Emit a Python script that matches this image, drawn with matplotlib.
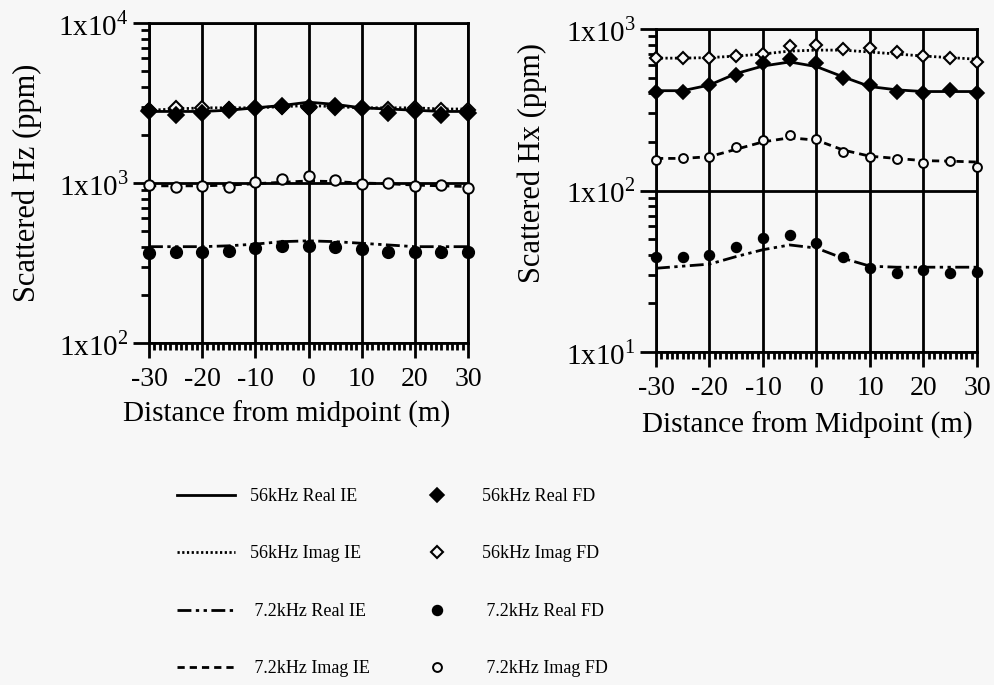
import matplotlib
matplotlib.use('Agg')
import matplotlib.pyplot as plt
from matplotlib.lines import Line2D
from matplotlib.ticker import FixedLocator, FixedFormatter, LogLocator, MultipleLocator, NullFormatter

plt.rcParams['font.family'] = ['Liberation Serif', 'DejaVu Serif']
plt.rcParams['mathtext.fontset'] = 'custom'
plt.rcParams['mathtext.rm'] = 'Liberation Serif'

# ---------------- data ----------------
x = [-30, -25, -20, -15, -10, -5, 0, 5, 10, 15, 20, 25, 30]

# Left panel: Scattered Hz (ppm)
hz56_real_ie = [2800, 2800, 2800, 2850, 2950, 3050, 3200, 3100, 2950, 2900, 2850, 2800, 2800]
hz56_imag_ie = [2850, 2900, 2950, 2950, 2950, 3000, 3050, 3000, 2950, 2950, 2950, 2900, 2900]
hz72_real_ie = [400, 400, 400, 405, 415, 430, 435, 430, 420, 410, 400, 400, 400]
hz72_imag_ie = [960, 960, 960, 970, 990, 1010, 1030, 1020, 1000, 990, 970, 960, 950]
hz56_real_fd = [2800, 2650, 2750, 2850, 2950, 3050, 3000, 3050, 2950, 2750, 2800, 2650, 2750]
hz56_imag_fd = [2850, 2950, 2950, 2900, 2950, 3000, 2950, 2950, 2950, 2900, 2950, 2850, 2850]
hz72_real_fd = [365, 370, 370, 375, 390, 405, 405, 400, 385, 370, 370, 370, 370]
hz72_imag_fd = [970, 950, 955, 950, 1020, 1060, 1110, 1050, 990, 1005, 955, 970, 930]

# Right panel: Scattered Hx (ppm)
hx56_real_ie = [415, 415, 450, 530, 590, 625, 585, 505, 440, 420, 410, 410, 410]
hx56_imag_ie = [660, 660, 665, 680, 700, 730, 740, 740, 720, 700, 680, 665, 650]
hx72_real_ie = [33, 34, 35, 39, 43, 46, 44, 38, 34, 33.5, 33.5, 33.5, 33.5]
hx72_imag_ie = [158, 158, 162, 180, 200, 212, 205, 178, 163, 158, 153, 152, 150]
hx56_real_fd = [410, 405, 450, 520, 620, 650, 615, 495, 450, 410, 400, 420, 400]
hx56_imag_fd = [660, 660, 660, 680, 705, 785, 795, 750, 760, 725, 680, 660, 625]
hx72_real_fd = [38.5, 39, 40, 45, 50.5, 53, 47.5, 39, 33, 31, 32, 31, 31.5]
hx72_imag_fd = [155, 158, 162, 187, 206, 221, 207, 174, 162, 156, 149, 152, 140]

xticks = [-30, -20, -10, 0, 10, 20, 30]
xtick_labels = ['-30', '-20', '-10', '0', '10', '20', '30']
left_yticks = [1e2, 1e3, 1e4]
left_ytick_labels = ['1x10$^{2}$', '1x10$^{3}$', '1x10$^{4}$']
right_yticks = [1e1, 1e2, 1e3]
right_ytick_labels = ['1x10$^{1}$', '1x10$^{2}$', '1x10$^{3}$']

left_xlabel = 'Distance from midpoint (m)'
right_xlabel = 'Distance from Midpoint (m)'
left_ylabel = 'Scattered Hz (ppm)'
right_ylabel = 'Scattered Hx (ppm)'

line_labels = ['56kHz Real IE', '56kHz Imag IE', ' 7.2kHz Real IE', ' 7.2kHz Imag IE']
marker_labels = ['56kHz Real FD', '56kHz Imag FD', ' 7.2kHz Real FD', ' 7.2kHz Imag FD']

# ---------------- styles ----------------
BG = '#f7f7f7'
LW = 2.0
ls_real56 = '-'
ls_imag56 = (0, (0.8, 0.9))
ls_real72 = (0, (5, 1.6, 1.2, 1.6, 1.2, 1.6))
ls_imag72 = (0, (2.6, 1.8))


def marker_styles(scale):
    return [
        dict(marker='D', ms=8 * scale, mfc='black', mec='black', mew=1.2, ls='none'),
        dict(marker='D', ms=7.5 * scale, mfc=BG, mec='black', mew=1.5, ls='none'),
        dict(marker='o', ms=8.5 * scale, mfc='black', mec='black', mew=1.0, ls='none'),
        dict(marker='o', ms=7.5 * scale, mfc=BG, mec='black', mew=1.4, ls='none'),
    ]


fig = plt.figure(figsize=(9.95, 6.85), dpi=100, facecolor=BG)

ax1 = fig.add_axes([149/995, 1-343/685, 319/995, 320/685])
ax2 = fig.add_axes([656/995, 1-352/685, 321/995, 323/685])


def style_axes(ax, ylim, yticks, ylabels, xlabel, ylabel):
    ax.set_facecolor(BG)
    ax.set_yscale('log')
    ax.set_xlim(-30, 30)
    ax.set_ylim(*ylim)
    ax.xaxis.set_major_locator(FixedLocator(xticks))
    ax.xaxis.set_major_formatter(FixedFormatter(xtick_labels))
    ax.xaxis.set_minor_locator(MultipleLocator(1))
    ax.yaxis.set_major_locator(FixedLocator(yticks))
    ax.yaxis.set_major_formatter(FixedFormatter(ylabels))
    ax.yaxis.set_minor_locator(LogLocator(base=10, subs=range(2, 10)))
    ax.yaxis.set_minor_formatter(NullFormatter())
    ax.tick_params(axis='both', which='both', direction='out', width=2, color='black')
    ax.tick_params(axis='x', which='major', length=11, pad=6, labelsize=20)
    ax.tick_params(axis='x', which='minor', length=5)
    ax.tick_params(axis='y', which='major', length=11.5, pad=3, labelsize=21)
    ax.tick_params(axis='y', which='minor', length=6)
    for s in ['left', 'bottom', 'top', 'right']:
        ax.spines[s].set_linewidth(2)
    ax.grid(True, which='major', axis='both', color='black', lw=2)
    ax.set_axisbelow(True)
    ax.set_xlabel(xlabel, fontsize=21)
    ax.set_ylabel(ylabel, fontsize=22)


style_axes(ax1, (1e2, 1e4), left_yticks, left_ytick_labels, left_xlabel, left_ylabel)
style_axes(ax2, (1e1, 1e3), right_yticks, right_ytick_labels, right_xlabel, right_ylabel)

for ax, scale, r56, i56, r72, i72, fr56, fi56, fr72, fi72 in [
    (ax1, 1.0, hz56_real_ie, hz56_imag_ie, hz72_real_ie, hz72_imag_ie,
     hz56_real_fd, hz56_imag_fd, hz72_real_fd, hz72_imag_fd),
    (ax2, 0.85, hx56_real_ie, hx56_imag_ie, hx72_real_ie, hx72_imag_ie,
     hx56_real_fd, hx56_imag_fd, hx72_real_fd, hx72_imag_fd)]:
    mk_real56, mk_imag56, mk_real72, mk_imag72 = marker_styles(scale)
    ax.plot(x, i56, color='black', lw=LW, ls=ls_imag56, zorder=3)
    ax.plot(x, r56, color='black', lw=LW, ls=ls_real56, zorder=3)
    ax.plot(x, i72, color='black', lw=LW, ls=ls_imag72, zorder=3)
    ax.plot(x, r72, color='black', lw=LW, ls=ls_real72, zorder=3)
    ax.plot(x, fi56, zorder=4, clip_on=False, **mk_imag56)
    ax.plot(x, fr56, zorder=5, clip_on=False, **mk_real56)
    ax.plot(x, fi72, zorder=4, clip_on=False, **mk_imag72)
    ax.plot(x, fr72, zorder=5, clip_on=False, **mk_real72)

ax1.xaxis.set_label_coords(0.43, -0.18)
ax2.xaxis.set_label_coords(0.47, -0.185)
ax1.yaxis.set_label_coords(-0.335, 0.5)
ax2.yaxis.set_label_coords(-0.34, 0.585)

# ---------------- legend ----------------
line_handles = [Line2D([], [], color='black', lw=LW, ls=s)
                for s in [ls_real56, ls_imag56, ls_real72, ls_imag72]]
marker_handles = [Line2D([], [], **m) for m in marker_styles(0.85)]

leg_kw = dict(frameon=False, loc='upper left', fontsize=13, borderaxespad=0,
              borderpad=0, labelspacing=2.24)
fig.legend(line_handles, line_labels, bbox_to_anchor=(177/995, 1-488/685),
           handlelength=3.2, handletextpad=0.85, **leg_kw)
fig.legend(marker_handles, marker_labels, bbox_to_anchor=(428/995, 1-488/685),
           handlelength=1.0, handletextpad=2.0, **leg_kw)

fig.savefig('out.png', dpi=100, facecolor=BG)
